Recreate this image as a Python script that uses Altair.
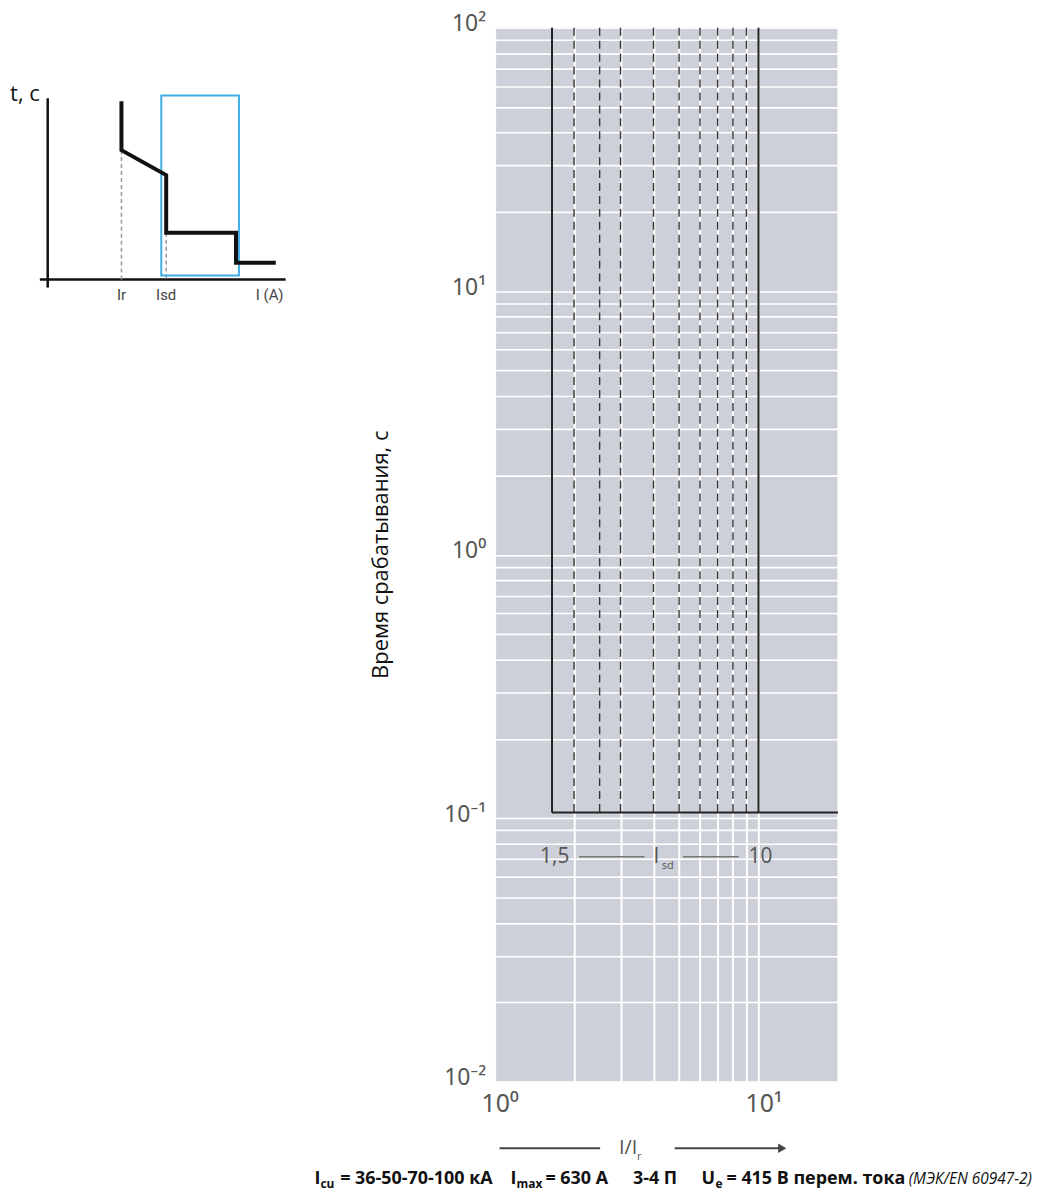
import altair as alt
import pandas as pd

# ---------------- main chart values ----------------
x_grid = [1, 2, 3, 4, 5, 6, 7, 8, 9, 10, 20]
y_grid = [0.01, 0.02, 0.03, 0.04, 0.05, 0.06, 0.07, 0.08, 0.09,
          0.1, 0.2, 0.3, 0.4, 0.5, 0.6, 0.7, 0.8, 0.9,
          1, 2, 3, 4, 5, 6, 7, 8, 9,
          10, 20, 30, 40, 50, 60, 70, 80, 90, 100]
isd_settings = [2, 2.5, 3, 4, 5, 6, 7, 8, 9]   # dashed settings
isd_limits = [1.65, 10]                       # solid band limits (as drawn)
x_max = 20
t_top = 100
t_sd = 0.105

# "1,5 —— Isd —— 10" annotation
range_labels = ["1,5", "10"]
range_label_x = [1.92, 9.17]
range_y = 0.0714
range_line_x = [2.09, 5.18]
range_line_x2 = [3.70, 8.41]
isd_label_x = 4.10
isd_sub_x = 4.30

# caption
cap_texts = ["I", "cu", "= 36-50-70-100 кА", "I", "max", "= 630 А", "3-4 П",
             "U", "e", "= 415 В перем. тока", "(МЭК/EN 60947-2)"]

# ---------------- inset (schematic) values ----------------
curve_u = [33.2, 33.2, 51.4, 51.4, 79.8, 79.8, 96]
curve_v = [70.8, 51.4, 41.5, 18.6, 18.6, 6.7, 6.7]
inset_axes_u = [3.2, 0]
inset_axes_u2 = [3.2, 100]
inset_axes_v = [-3.2, 0]
inset_axes_v2 = [72, 0]
inset_dash_u = [33.2, 51.4]
inset_dash_top = [51.4, 18.6]
box_u = [49.4, 81]
box_v = [1.6, 73.1]
inset_labels = ["Ir", "Isd", "I (A)"]
inset_label_u = [33.2, 51.4, 93.5]
inset_label_v = -6.3

GRID_BG = "#cdd0d9"
FONT = "Open Sans"
one = alt.Data(values=[{}])

# ---------------- main chart ----------------
xs = alt.Scale(type="log", domain=[1, x_max], nice=False)
ys = alt.Scale(type="log", domain=[0.01, 100], nice=False)

xaxis = alt.Axis(
    values=x_grid,
    labelExpr="datum.value == 1 ? '10⁰' : datum.value == 10 ? '10¹' : ''",
    grid=True, gridColor="white", gridWidth=2, gridOpacity=1,
    domain=False, ticks=False, tickSize=0,
    labelFont="Noto Sans", labelFontSize=25, labelColor="#555",
    labelPadding=10, labelOverlap=False, labelFlush=False, labelOffset=5,
    title="",
)
yaxis = alt.Axis(
    values=y_grid,
    labelExpr=("datum.value == 100 ? '10²' : datum.value == 10 ? '10¹' : "
               "datum.value == 1 ? '10⁰' : datum.value == 0.1 ? '10⁻¹' : "
               "datum.value == 0.01 ? '10⁻²' : ''"),
    grid=True, gridColor="white", gridWidth=1.6, gridOpacity=1,
    domain=False, ticks=False, tickSize=0,
    labelFont="Noto Sans", labelFontSize=23, labelColor="#555",
    labelPadding=9, labelOffset=-4, labelOverlap=False, labelFlush=False,
    title="Время срабатывания, с", titleFont=FONT, titleFontSize=22,
    titleFontWeight="normal", titleColor="#111",
    titleX=-115, titleY=529, titleAngle=270,
    titleBaseline="middle", titleAlign="center",
)


def mx(f):
    return alt.X(f, scale=xs, axis=xaxis)


def my(f):
    return alt.Y(f, scale=ys, axis=yaxis)


dashed_df = pd.DataFrame({"x": isd_settings, "y": t_top, "y2": t_sd})
limits_df = pd.DataFrame({"x": isd_limits, "y": t_top, "y2": t_sd})
hline_df = pd.DataFrame({"x": [isd_limits[0]], "x2": [x_max], "y": [t_sd]})

dashed = alt.Chart(dashed_df).mark_rule(
    color="#333", strokeWidth=1.4, strokeDash=[8, 5]
).encode(x=mx("x:Q"), y=my("y:Q"), y2="y2:Q")

limits = alt.Chart(limits_df).mark_rule(color="#222", strokeWidth=2).encode(
    x=mx("x:Q"), y=my("y:Q"), y2="y2:Q")

hline = alt.Chart(hline_df).mark_rule(color="#222", strokeWidth=2).encode(
    x=mx("x:Q"), x2="x2:Q", y=my("y:Q"))

rl_df = pd.DataFrame({"x": range_label_x, "y": range_y, "t": range_labels})
range_left = alt.Chart(rl_df.iloc[[0]]).mark_text(
    align="right", baseline="middle", font=FONT, fontSize=21, color="#555"
).encode(x=mx("x:Q"), y=my("y:Q"), text="t:N")
range_right = alt.Chart(rl_df.iloc[[1]]).mark_text(
    align="left", baseline="middle", font=FONT, fontSize=21, color="#555"
).encode(x=mx("x:Q"), y=my("y:Q"), text="t:N")
range_lines = alt.Chart(pd.DataFrame({"x": range_line_x, "x2": range_line_x2, "y": range_y})
                        ).mark_rule(color="#777", strokeWidth=1.3).encode(
    x=mx("x:Q"), x2="x2:Q", y=my("y:Q"))
isd_I = alt.Chart(pd.DataFrame({"x": [isd_label_x], "y": [range_y], "t": ["I"]})).mark_text(
    align="center", baseline="middle", font=FONT, fontSize=21, color="#555"
).encode(x=mx("x:Q"), y=my("y:Q"), text="t:N")
isd_sub = alt.Chart(pd.DataFrame({"x": [isd_sub_x], "y": [range_y], "t": ["sd"]})).mark_text(
    align="left", baseline="middle", font=FONT, fontSize=11, color="#555", dy=9
).encode(x=mx("x:Q"), y=my("y:Q"), text="t:N")

# x-axis title with arrows (below the axis)
xt_main = alt.Chart(one).mark_text(
    align="left", baseline="middle", font=FONT, fontSize=20, color="#555"
).encode(x=alt.value(125), y=alt.value(1126), text=alt.value("I/I"))
xt_sub = alt.Chart(one).mark_text(
    align="left", baseline="middle", font=FONT, fontSize=11, color="#555"
).encode(x=alt.value(143), y=alt.value(1135), text=alt.value("r"))
arrow_left = alt.Chart(one).mark_rule(color="#444", strokeWidth=2).encode(
    x=alt.value(5), x2=alt.value(106), y=alt.value(1126))
arrow_right = alt.Chart(one).mark_rule(color="#444", strokeWidth=2).encode(
    x=alt.value(181), x2=alt.value(287), y=alt.value(1126))
arrow_head = alt.Chart(one).mark_point(
    shape="triangle-right", filled=True, size=90, color="#444", opacity=1
).encode(x=alt.value(289), y=alt.value(1126))

# caption segments (x relative to plot's left edge)
cap_x = [-175, -161, -2, 16, 22, 51, 139, 208, 222, 233, 540]
cap_align = ["right", "right", "right"] + ["left"] * 7 + ["right"]
cap_sub = [False, True, False, False, True, False, False, False, True, False, False]
caption_layers = []
for i, t in enumerate(cap_texts):
    is_last = i == len(cap_texts) - 1
    kw = dict(
        align=cap_align[i], baseline="alphabetic", font=FONT,
        fontSize=12 if cap_sub[i] else (15.5 if is_last else 18),
        fontWeight="normal" if is_last else "bold",
        color="#111",
    )
    if is_last:
        kw["fontStyle"] = "italic"
    if cap_sub[i]:
        kw["dy"] = 4
    caption_layers.append(
        alt.Chart(one).mark_text(**kw).encode(
            x=alt.value(cap_x[i]), y=alt.value(1162), text=alt.value(t))
    )

main = alt.layer(
    dashed, limits, hline, range_lines, range_left, range_right, isd_I, isd_sub,
    xt_main, xt_sub, arrow_left, arrow_right, arrow_head, *caption_layers
).properties(
    width=345, height=1059,
    view=alt.ViewBackground(fill=GRID_BG, strokeWidth=0),
)

# ---------------- inset ----------------
us = alt.Scale(domain=[0, 100], nice=False, zero=False)
vs = alt.Scale(domain=[0, 100], nice=False, zero=False)


def ix(f):
    return alt.X(f, scale=us, axis=None)


def iy(f):
    return alt.Y(f, scale=vs, axis=None)


ax_df = pd.DataFrame({"u": inset_axes_u, "u2": inset_axes_u2,
                      "v": inset_axes_v, "v2": inset_axes_v2})
inset_axes = alt.Chart(ax_df).mark_rule(color="#111", strokeWidth=2.5).encode(
    x=ix("u:Q"), x2="u2:Q", y=iy("v:Q"), y2="v2:Q")

dash_df = pd.DataFrame({"u": inset_dash_u, "v": inset_dash_top, "v2": [0, 0]})
inset_dash = alt.Chart(dash_df).mark_rule(
    color="#999", strokeWidth=1.5, strokeDash=[4, 3]).encode(
    x=ix("u:Q"), y=iy("v:Q"), y2="v2:Q")

box_df = pd.DataFrame({"u": [box_u[0]], "u2": [box_u[1]], "v": [box_v[0]], "v2": [box_v[1]]})
inset_box = alt.Chart(box_df).mark_rect(
    fillOpacity=0, stroke="#3faee3", strokeWidth=2).encode(
    x=ix("u:Q"), x2="u2:Q", y=iy("v:Q"), y2="v2:Q")

curve_df = pd.DataFrame({"u": curve_u, "v": curve_v, "i": list(range(len(curve_u)))})
inset_curve = alt.Chart(curve_df).mark_line(
    color="#111", strokeWidth=4, strokeJoin="miter", strokeCap="butt").encode(
    x=ix("u:Q"), y=iy("v:Q"), order="i:Q")

lab_df = pd.DataFrame({"u": inset_label_u, "v": inset_label_v, "t": inset_labels})
inset_lab = alt.Chart(lab_df).mark_text(
    align="center", baseline="middle", font="Roboto", fontSize=15, color="#444"
).encode(x=ix("u:Q"), y=iy("v:Q"), text="t:N")

tc = alt.Chart(pd.DataFrame({"u": [-12.1], "v": [70.8], "t": ["t, c"]})).mark_text(
    align="left", baseline="alphabetic", font=FONT, fontSize=22, color="#111"
).encode(x=ix("u:Q"), y=iy("v:Q"), text="t:N")

inset = alt.layer(inset_axes, inset_dash, inset_box, inset_curve, inset_lab, tc).properties(
    width=247, height=253,
    view=alt.ViewBackground(fill="white", strokeWidth=0),
)

chart = alt.hconcat(inset, main, spacing=210, bounds="flush").properties(
    padding={"left": 2, "top": 2, "right": 0, "bottom": 0}
).configure_view(strokeWidth=0)

chart.save("out.html", embed_options={"renderer": "svg", "actions": False})
